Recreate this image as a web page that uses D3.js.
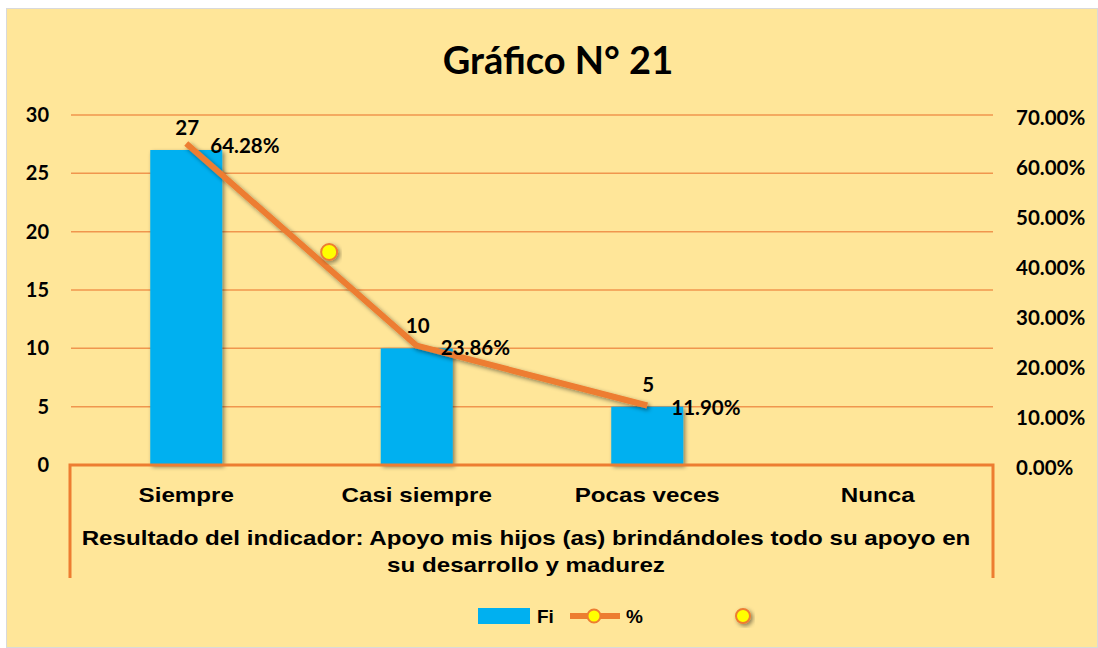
<!DOCTYPE html>
<html>
<head>
<meta charset="utf-8">
<script src="https://cdn.jsdelivr.net/npm/d3@7"></script>
<style>
  body { margin: 0; background: #ffffff; }
  text { font-family: Lato, "Open Sans", sans-serif; font-weight: bold; fill: #000; }
  .narrow { font-family: "Liberation Sans Narrow", "Arial Narrow", "Liberation Sans", sans-serif; }
</style>
</head>
<body>
<div id="chart"></div>
<script>
// data
var categories = ["Siempre", "Casi siempre", "Pocas veces", "Nunca"];
var fi = [27, 10, 5, null];
var pct = [0.6428, 0.2386, 0.1190, null];
var pctLabels = ["64.28%", "23.86%", "11.90%", ""];
var leftTicks = [0, 5, 10, 15, 20, 25, 30];
var rightTicks = [0, 0.1, 0.2, 0.3, 0.4, 0.5, 0.6, 0.7];
// stray marker of the third (unnamed) series: position in category steps, value on % axis
var strayPos = [0.62];
var strayVal = [0.426];
var axisTitle = ["Resultado del indicador: Apoyo mis hijos (as) brindándoles todo su apoyo en",
                 "su desarrollo y madurez"];

var W = 1098, H = 648;
var margin = {top: 115, right: 105, bottom: 183, left: 71};
var width = W - margin.left - margin.right;
var height = H - margin.top - margin.bottom;

var orange = "#ED7D31", blue = "#00B0F0", bg = "#FFE699";
var stretch = 1.15; // narrow font is missing, widen the regular one a little

var svg = d3.select("#chart").append("svg")
    .attr("width", W).attr("height", H);

var defs = svg.append("defs");
var f = defs.append("filter").attr("id", "shadow")
    .attr("x", "-20%").attr("y", "-20%").attr("width", "150%").attr("height", "150%");
f.append("feDropShadow").attr("dx", 2).attr("dy", 2).attr("stdDeviation", 2)
    .attr("flood-color", "#000").attr("flood-opacity", 0.45);

svg.append("rect")
    .attr("x", 6.5).attr("y", 8.5).attr("width", W - 7).attr("height", H - 9)
    .attr("fill", bg).attr("stroke", "#d9d9d9").attr("stroke-width", 1);

// title
svg.append("text")
    .attr("x", 558).attr("y", 74)
    .attr("text-anchor", "middle")
    .style("font-size", "38px")
    .text("Gráfico N° 21");

var g = svg.append("g")
    .attr("transform", "translate(" + margin.left + "," + margin.top + ")");

var x = d3.scaleBand().domain(categories).range([0, width]);
var step = x.step();
var cx = function(i) { return i * step + step / 2; };
var y = d3.scaleLinear().domain([0, 30]).range([height, 0]);
var y2 = d3.scaleLinear().domain([0, 0.7]).range([height, 0]);

// gridlines
g.selectAll(".grid")
    .data(leftTicks.slice(1))
    .enter().append("line")
    .attr("x1", 0).attr("x2", width)
    .attr("y1", function(d) { return y(d); })
    .attr("y2", function(d) { return y(d); })
    .attr("stroke", "#F0964E").attr("stroke-width", 1.5);

// left axis
var yAxis = g.append("g")
    .attr("transform", "translate(-22,0)")
    .call(d3.axisLeft(y).tickValues(leftTicks).tickSize(0).tickPadding(0));
yAxis.select(".domain").remove();
yAxis.selectAll("text").style("font-size", "20px").style("font-family", "Lato, sans-serif").attr("fill", "#000");

// right axis
var y2Axis = g.append("g")
    .attr("transform", "translate(" + (width + 23) + ",0)")
    .call(d3.axisRight(y2).tickValues(rightTicks).tickSize(0).tickPadding(0)
      .tickFormat(function(d) { return (d * 100).toFixed(2) + "%"; }));
y2Axis.select(".domain").remove();
y2Axis.selectAll("text").style("font-size", "20.5px").style("font-family", "Lato, sans-serif").attr("fill", "#000")
    .attr("dy", "0.45em");

// bars
var barW = 72;
g.selectAll(".bar")
    .data(fi)
    .enter().filter(function(d) { return d != null; }).append("rect")
    .attr("x", function(d, i) { return cx(i) - barW / 2; })
    .attr("y", function(d) { return y(d); })
    .attr("width", barW)
    .attr("height", function(d) { return height - y(d); })
    .attr("fill", blue)
    .attr("filter", "url(#shadow)");

// category frame / x axis
g.append("path")
    .attr("d", "M-1," + (height + 113) + "V" + height + "H" + (width) + "V" + (height + 113))
    .attr("fill", "none").attr("stroke", orange).attr("stroke-width", 3);

// category labels
g.selectAll(".cat")
    .data(categories)
    .enter().append("text")
    .attr("class", "narrow")
    .attr("x", function(d, i) { return cx(i); })
    .attr("y", height + 37)
    .attr("text-anchor", "middle")
    .style("font-size", "21px")
    .text(function(d) { return d; });

// axis title
g.selectAll(".atitle")
    .data(axisTitle)
    .enter().append("text")
    .attr("class", "narrow")
    .attr("x", 455)
    .attr("y", function(d, i) { return height + 80 + i * 27; })
    .attr("text-anchor", "middle")
    .style("font-size", "21px")
    .text(function(d) { return d; });

// widen the narrow-font texts
g.selectAll("text.narrow").each(function() {
  var len = this.getComputedTextLength();
  d3.select(this).attr("textLength", len * stretch).attr("lengthAdjust", "spacingAndGlyphs");
});

// % line
var linePts = pct.map(function(d, i) { return {i: i, v: d}; }).filter(function(d) { return d.v != null; });
g.append("path")
    .datum(linePts)
    .attr("d", d3.line().x(function(d) { return cx(d.i); }).y(function(d) { return y2(d.v); }))
    .attr("fill", "none").attr("stroke", orange).attr("stroke-width", 6)
    .attr("stroke-linejoin", "round")
    .attr("filter", "url(#shadow)");

// stray marker
g.selectAll(".stray")
    .data(strayVal)
    .enter().append("circle")
    .attr("cx", function(d, i) { return cx(strayPos[i]); })
    .attr("cy", function(d) { return y2(d); })
    .attr("r", 8)
    .attr("fill", "#FFFF00").attr("stroke", orange).attr("stroke-width", 2)
    .attr("filter", "url(#shadow)");

// data labels
g.selectAll(".fiLab")
    .data(fi)
    .enter().filter(function(d) { return d != null; }).append("text")
    .attr("x", function(d, i) { return cx(i) + 1; })
    .attr("y", function(d) { return y(d) - 15; })
    .attr("text-anchor", "middle")
    .style("font-size", "20.5px")
    .text(function(d) { return d; });

g.selectAll(".pctLab")
    .data(linePts)
    .enter().append("text")
    .attr("x", function(d) { return cx(d.i) + 24; })
    .attr("y", function(d) { return y2(d.v) + 9; })
    .style("font-size", "20.5px")
    .text(function(d) { return pctLabels[d.i]; });

// legend
var lg = svg.append("g").attr("transform", "translate(0,616)");
lg.append("rect").attr("x", 478).attr("y", -8).attr("width", 52).attr("height", 16).attr("fill", blue);
lg.append("text").attr("class", "narrow").attr("x", 537).attr("y", 7).style("font-size", "19px").text("Fi");
lg.append("line").attr("x1", 570).attr("x2", 620).attr("y1", 0).attr("y2", 0)
    .attr("stroke", orange).attr("stroke-width", 6);
lg.append("circle").attr("cx", 594).attr("cy", 0).attr("r", 6.5)
    .attr("fill", "#FFFF00").attr("stroke", orange).attr("stroke-width", 2);
lg.append("text").attr("class", "narrow").attr("x", 626).attr("y", 7).style("font-size", "19px").text("%");
lg.append("circle").attr("cx", 743).attr("cy", 0).attr("r", 7)
    .attr("fill", "#FFFF00").attr("stroke", orange).attr("stroke-width", 2)
    .attr("filter", "url(#shadow)");
</script>
</body>
</html>
